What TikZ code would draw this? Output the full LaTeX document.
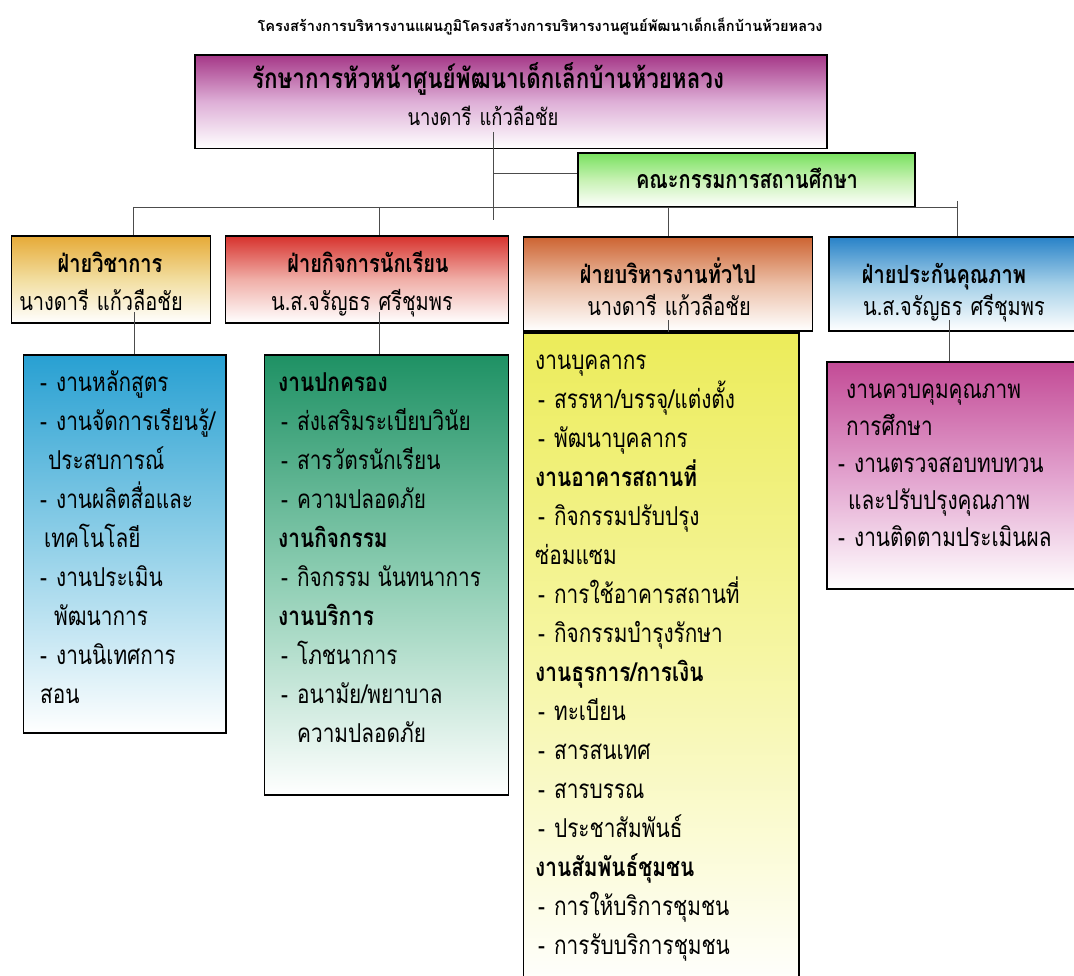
\documentclass[tikz,border=0pt]{standalone}
\usepackage{fontspec}
\newfontfamily\thai[Script=Thai,FakeStretch=0.8]{Loma}
\newfontfamily\thaiT[Script=Thai]{Loma}
\usetikzlibrary{fit}
\definecolor{cTop}{RGB}{165,55,135}
\definecolor{cTopM}{RGB}{222,175,215}
\definecolor{cCom}{RGB}{120,225,95}
\definecolor{cComM}{RGB}{200,242,180}
\definecolor{cA}{RGB}{230,170,55}
\definecolor{cAM}{RGB}{242,222,160}
\definecolor{cB}{RGB}{215,50,45}
\definecolor{cBM}{RGB}{240,175,168}
\definecolor{cC}{RGB}{205,100,50}
\definecolor{cCM}{RGB}{236,192,168}
\definecolor{cD}{RGB}{40,130,200}
\definecolor{cDM}{RGB}{165,208,232}
\definecolor{cS1}{RGB}{40,160,210}
\definecolor{cS1M}{RGB}{145,208,232}
\definecolor{cS2}{RGB}{30,145,100}
\definecolor{cS2M}{RGB}{140,205,178}
\definecolor{cY}{RGB}{236,236,90}
\definecolor{cYM}{RGB}{246,246,165}
\definecolor{cP}{RGB}{195,75,150}
\definecolor{cPM}{RGB}{226,162,206}
\newcommand\dsh{-\hspace{9pt}}
\tikzset{
  frame/.style={draw=black, line width=1.2pt, inner sep=0pt},
  sh/.style n args={3}{top color=#1, bottom color=#3, middle color=#2},
  conn/.style={draw=black!70, line width=0.9pt},
  ttl/.style={font=\thaiT\bfseries\fontsize{14.6}{16}\selectfont, anchor=base, yshift=-3.6pt, inner sep=0pt},
  tp/.style={font=\thai\bfseries\fontsize{28}{30}\selectfont, anchor=base, yshift=-7pt, inner sep=0pt},
  tpn/.style={font=\thai\fontsize{23}{26}\selectfont, anchor=base, yshift=-6pt, inner sep=0pt},
  hd/.style={font=\thai\bfseries\fontsize{25}{28}\selectfont, anchor=base, yshift=-6pt, inner sep=0pt},
  nm/.style={font=\thai\fontsize{25}{28}\selectfont, anchor=base, yshift=-6pt, inner sep=0pt},
  sb/.style={font=\thai\fontsize{26}{28}\selectfont, anchor=base west, yshift=-6.5pt, inner sep=0pt},
  sbb/.style={sb, font=\thai\bfseries\fontsize{26}{28}\selectfont},
}
\begin{document}
\begin{tikzpicture}[x=1pt,y=-1pt]
\useasboundingbox (0,0) rectangle (1074,976);
\fill[white] (0,0) rectangle (1074,976);

% title
\node[ttl] (title) at (540,28) {โครงสร้างการบริหารงานแผนภูมิโครงสร้างการบริหารงานศูนย์พัฒนาเด็กเล็กบ้านห้วยหลวง};

% boxes
\node[frame, line width=1.8pt, sh={cTop}{cTopM}{white}, fit={(195,55) (827,148.5)}] (top) {};
\node[frame, sh={cCom}{cComM}{white}, fit={(578,153) (915,207)}] (com) {};
\node[frame, sh={cA}{cAM}{white}, fit={(11.5,236) (210.5,323)}] (b1) {};
\node[frame, sh={cB}{cBM}{white}, fit={(225.5,236) (508.5,323)}] (b2) {};
\node[frame, sh={cC}{cCM}{white}, fit={(523.5,237) (812.5,331)}] (b3) {};
\node[frame, sh={cD}{cDM}{white}, fit={(829,237) (1082,331)}] (b4) {};
\node[frame, sh={cS1}{cS1M}{white}, fit={(23.5,355) (226,733)}] (s1) {};
\node[frame, sh={cS2}{cS2M}{white}, fit={(264.5,355) (508.5,795)}] (s2) {};
\node[frame, sh={cY}{cYM}{white}, fit={(523.5,333) (799,992)}] (s3) {};
\node[frame, sh={cP}{cPM}{white}, fit={(827,362) (1082,589)}] (s4) {};

% connectors
\coordinate (v0) at (493,132);
\coordinate (v1) at (493,220);
\coordinate (j1) at (493,173);
\coordinate (busL) at (133,207);
\coordinate (busR) at (957,207);
\coordinate (d2) at (379,207);
\coordinate (d3) at (668,207);
\coordinate (d4) at (957,201);
\draw[conn] (v0) -- (v1);
\draw[conn] (j1) -- (j1 -| com.west);
\draw[conn] (busL) -- (busR);
\draw[conn] (busL) -- (busL |- b1.north);
\draw[conn] (d2) -- (d2 |- b2.north);
\draw[conn] (d3) -- (d3 |- b3.north);
\draw[conn] (d4) -- (d4 |- b4.north);
\coordinate (e1) at (134,312);
\coordinate (e2) at (379,312);
\coordinate (e3) at (668,320);
\coordinate (e4) at (949,320);
\draw[conn] (e1) -- (e1 |- s1.north);
\draw[conn] (e2) -- (e2 |- s2.north);
\draw[conn] (e3) -- (e3 |- s3.north);
\draw[conn] (e4) -- (e4 |- s4.north);

% top texts
\node[tp] (topa) at (488,82) {รักษาการหัวหน้าศูนย์พัฒนาเด็กเล็กบ้านห้วยหลวง};
\node[tpn] (topb) at (483,120) {นางดารี\hspace{8pt}แก้วลือชัย};
\node[hd] (comt) at (747,183) {คณะกรรมการสถานศึกษา};

% headers
\node[hd] (b1a) at (110,267) {ฝ่ายวิชาการ};
\node[nm] (b1b) at (101,305) {นางดารี\hspace{8pt}แก้วลือชัย};
\node[hd] (b2a) at (368,267) {ฝ่ายกิจการนักเรียน};
\node[nm] (b2b) at (362,305) {น.ส.จรัญธร\hspace{8pt}ศรีชุมพร};
\node[hd] (b3a) at (668,278) {ฝ่ายบริหารงานทั่วไป};
\node[nm] (b3b) at (669,310) {นางดารี\hspace{8pt}แก้วลือชัย};
\node[hd] (b4a) at (944,278) {ฝ่ายประกันคุณภาพ};
\node[nm] (b4b) at (954,310) {น.ส.จรัญธร\hspace{8pt}ศรีชุมพร};

% sub 1
\node[sb] (p1) at (40,385) {\dsh งานหลักสูตร};
\node[sb] (p2) at (40,424) {\dsh งานจัดการเรียนรู้/};
\node[sb] (p3) at (48,463) {ประสบการณ์};
\node[sb] (p4) at (40,502) {\dsh งานผลิตสื่อและ};
\node[sb] (p5) at (44,541) {เทคโนโลยี};
\node[sb] (p6) at (40,580) {\dsh งานประเมิน};
\node[sb] (p7) at (54,619) {พัฒนาการ};
\node[sb] (p8) at (40,658) {\dsh งานนิเทศการ};
\node[sb] (p9) at (40,697) {สอน};

% sub 2
\node[sbb] (q1) at (278,385) {งานปกครอง};
\node[sb] (q2) at (281,424) {\dsh ส่งเสริมระเบียบวินัย};
\node[sb] (q3) at (281,463) {\dsh สารวัตรนักเรียน};
\node[sb] (q4) at (281,502) {\dsh ความปลอดภัย};
\node[sbb] (q5) at (278,541) {งานกิจกรรม};
\node[sb] (q6) at (281,580) {\dsh กิจกรรม นันทนาการ};
\node[sbb] (q7) at (278,619) {งานบริการ};
\node[sb] (q8) at (281,658) {\dsh โภชนาการ};
\node[sb] (q9) at (281,697) {\dsh อนามัย/พยาบาล};
\node[sb] (q10) at (297,736) {ความปลอดภัย};

% sub 3
\node[sb] (r1) at (535,363) {งานบุคลากร};
\node[sb] (r2) at (538,402) {\dsh สรรหา/บรรจุ/แต่งตั้ง};
\node[sb] (r3) at (538,441) {\dsh พัฒนาบุคลากร};
\node[sbb] (r4) at (535,480) {งานอาคารสถานที่};
\node[sb] (r5) at (538,519) {\dsh กิจกรรมปรับปรุง};
\node[sb] (r6) at (535,558) {ซ่อมแซม};
\node[sb] (r7) at (538,597) {\dsh การใช้อาคารสถานที่};
\node[sb] (r8) at (538,636) {\dsh กิจกรรมบำรุงรักษา};
\node[sbb] (r9) at (535,675) {งานธุรการ/การเงิน};
\node[sb] (r10) at (538,714) {\dsh ทะเบียน};
\node[sb] (r11) at (538,753) {\dsh สารสนเทศ};
\node[sb] (r12) at (538,792) {\dsh สารบรรณ};
\node[sb] (r13) at (538,831) {\dsh ประชาสัมพันธ์};
\node[sbb] (r14) at (535,870) {งานสัมพันธ์ชุมชน};
\node[sb] (r15) at (538,909) {\dsh การให้บริการชุมชน};
\node[sb] (r16) at (538,948) {\dsh การรับบริการชุมชน};

% sub 4
\node[sb] (t1) at (846,392) {งานควบคุมคุณภาพ};
\node[sb] (t2) at (846,429) {การศึกษา};
\node[sb] (t3) at (838,466) {\dsh งานตรวจสอบทบทวน};
\node[sb] (t4) at (848,503) {และปรับปรุงคุณภาพ};
\node[sb] (t5) at (838,540) {\dsh งานติดตามประเมินผล};
\end{tikzpicture}
\end{document}
